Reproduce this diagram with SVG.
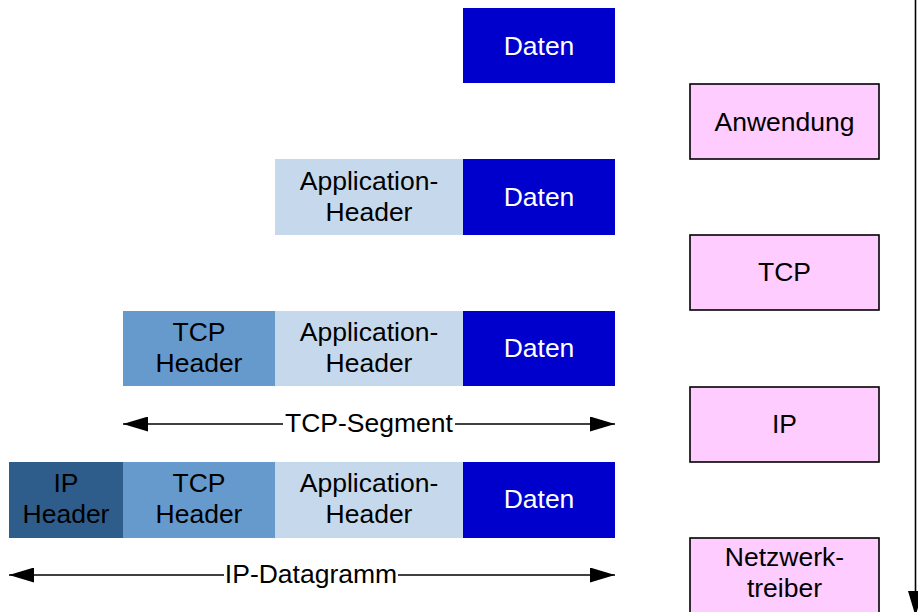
<svg xmlns="http://www.w3.org/2000/svg" width="918" height="612" viewBox="0 0 918 612">
  <style>
    text { font-family: "Liberation Sans", Arial, sans-serif; font-size: 26.5px; text-anchor: middle; fill: #000; }
    .data { fill: #0000CC; }
    .data-t { fill: #fff; }
    .app { fill: #C6D9EC; }
    .tcp { fill: #6699CC; }
    .ip { fill: #2E5D8C; }
    .layer { fill: #FFCCFF; stroke: #000; stroke-width: 1.6; }
    .line { stroke: #000; stroke-width: 1.6; fill: none; }
  </style>
  <defs>
    <marker id="head" viewBox="0 0 25 15" refX="25" refY="7.5" markerWidth="25" markerHeight="15" markerUnits="userSpaceOnUse" orient="auto-start-reverse">
      <path d="M0,0 L25,7.5 L0,15 Z" fill="#000"/>
    </marker>
  </defs>

  <rect width="918" height="612" fill="#fff"/>

  <!-- Row 1: payload only -->
  <g id="row1-daten">
    <rect class="data" x="463" y="8" width="152" height="75"/>
    <text class="data-t" x="539" y="55">Daten</text>
  </g>

  <!-- Row 2: application header + payload -->
  <g id="row2-app">
    <rect class="app" x="275" y="159" width="188" height="76"/>
    <text x="369" y="190">Application-</text>
    <text x="369" y="221">Header</text>
  </g>
  <g id="row2-daten">
    <rect class="data" x="463" y="159" width="152" height="76"/>
    <text class="data-t" x="539" y="206">Daten</text>
  </g>

  <!-- Row 3: TCP segment -->
  <g id="row3-tcp">
    <rect class="tcp" x="123" y="311" width="152" height="75"/>
    <text x="199" y="341">TCP</text>
    <text x="199" y="372">Header</text>
  </g>
  <g id="row3-app">
    <rect class="app" x="275" y="311" width="188" height="75"/>
    <text x="369" y="341">Application-</text>
    <text x="369" y="372">Header</text>
  </g>
  <g id="row3-daten">
    <rect class="data" x="463" y="311" width="152" height="75"/>
    <text class="data-t" x="539" y="357">Daten</text>
  </g>

  <!-- Row 4: IP datagram -->
  <g id="row4-ip">
    <rect class="ip" x="9" y="462" width="114" height="76"/>
    <text x="66" y="492">IP</text>
    <text x="66" y="523">Header</text>
  </g>
  <g id="row4-tcp">
    <rect class="tcp" x="123" y="462" width="152" height="76"/>
    <text x="199" y="492">TCP</text>
    <text x="199" y="523">Header</text>
  </g>
  <g id="row4-app">
    <rect class="app" x="275" y="462" width="188" height="76"/>
    <text x="369" y="492">Application-</text>
    <text x="369" y="523">Header</text>
  </g>
  <g id="row4-daten">
    <rect class="data" x="463" y="462" width="152" height="76"/>
    <text class="data-t" x="539" y="508">Daten</text>
  </g>

  <!-- Protocol layers -->
  <g id="layer-anwendung">
    <rect class="layer" x="690" y="84" width="189" height="75"/>
    <text x="784.5" y="131">Anwendung</text>
  </g>
  <g id="layer-tcp">
    <rect class="layer" x="690" y="235" width="189" height="75"/>
    <text x="784.5" y="281">TCP</text>
  </g>
  <g id="layer-ip">
    <rect class="layer" x="690" y="387" width="189" height="75"/>
    <text x="784.5" y="433">IP</text>
  </g>
  <g id="layer-netz">
    <rect class="layer" x="690" y="538" width="189" height="80"/>
    <text x="784.5" y="566">Netzwerk-</text>
    <text x="784.5" y="597">treiber</text>
  </g>

  <!-- Span arrows and direction arrow -->
  <g id="connectors">
    <line class="line" x1="123" y1="424" x2="283" y2="424" marker-start="url(#head)"/>
    <line class="line" x1="455" y1="424" x2="615" y2="424" marker-end="url(#head)"/>
    <text x="369" y="432">TCP-Segment</text>

    <line class="line" x1="9" y1="575" x2="224" y2="575" marker-start="url(#head)"/>
    <line class="line" x1="398" y1="575" x2="615" y2="575" marker-end="url(#head)"/>
    <text x="311" y="583">IP-Datagramm</text>

    <line class="line" x1="915.5" y1="0" x2="915.5" y2="616" marker-end="url(#head)"/>
  </g>
</svg>
